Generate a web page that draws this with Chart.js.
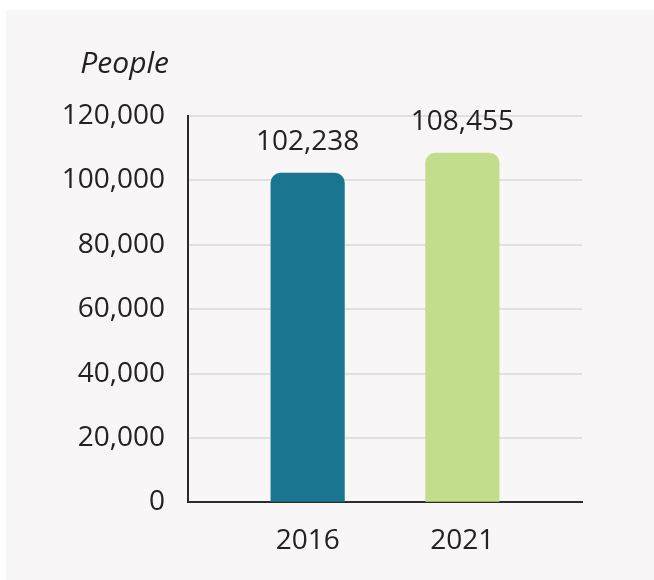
<!DOCTYPE html>
<html>
<head>
<meta charset="utf-8">
<script src="https://cdn.jsdelivr.net/npm/chart.js@4/dist/chart.umd.min.js"></script>
<style>
  html, body { margin: 0; padding: 0; background: #ffffff; }
  #wrap { position: absolute; left: 6px; top: 10px; width: 648px; height: 570px; background: #f8f6f7; }
  canvas { display: block; }
</style>
</head>
<body>
<div id="wrap"><canvas id="c" width="648" height="570"></canvas></div>
<script>
const categories = ['2016', '2021'];
const values = [102238, 108455];
const barColors = ['#1a7591', '#c2dd8c'];
const yTicks = [0, 20000, 40000, 60000, 80000, 100000, 120000];
const yTitle = 'People';

const FONT = '"Open Sans", "Noto Sans", sans-serif';
const fmt = v => Number(v).toLocaleString('en-US');

const labelPlugin = {
  id: 'valueLabels',
  afterDatasetsDraw(chart) {
    const ctx = chart.ctx;
    const meta = chart.getDatasetMeta(0);
    ctx.save();
    ctx.font = '28px ' + FONT;
    ctx.fillStyle = '#222222';
    ctx.textAlign = 'center';
    ctx.textBaseline = 'alphabetic';
    meta.data.forEach((el, i) => {
      ctx.fillText(fmt(values[i]), el.x, el.y - 23);
    });
    ctx.restore();
  }
};

const titlePlugin = {
  id: 'yTitle',
  afterDraw(chart) {
    const ctx = chart.ctx;
    ctx.save();
    ctx.font = 'italic 30px ' + FONT;
    ctx.fillStyle = '#222222';
    ctx.textAlign = 'right';
    ctx.textBaseline = 'alphabetic';
    ctx.fillText(yTitle, chart.chartArea.left - 19, chart.chartArea.top - 43);
    ctx.restore();
  }
};

new Chart(document.getElementById('c'), {
  type: 'bar',
  data: {
    datasets: [{
      data: categories.map((c, i) => ({ x: i + 1, y: values[i] })),
      backgroundColor: barColors,
      borderWidth: 0,
      borderRadius: 10,
      borderSkipped: 'start',
      barThickness: 73.5
    }]
  },
  options: {
    responsive: false,
    animation: false,
    layout: { padding: { top: 106, right: 72, bottom: 0, left: 0 } },
    plugins: { legend: { display: false }, tooltip: { enabled: false } },
    scales: {
      x: {
        type: 'linear',
        offset: false,
        min: 0.2265,
        max: 2.7735,
        afterBuildTicks: s => { s.ticks = categories.map((c, i) => ({ value: i + 1 })); },
        grid: { display: false, drawTicks: false, offset: false },
        border: { display: true, color: '#2b2b2b', width: 2 },
        ticks: {
          color: '#222222',
          font: { family: FONT, size: 28 },
          padding: 22,
          autoSkip: false,
          maxRotation: 0,
          callback: v => categories[v - 1]
        }
      },
      y: {
        min: 0,
        max: 120000,
        afterBuildTicks: s => { s.ticks = yTicks.map(v => ({ value: v })); },
        afterFit: s => { s.width = 182; },
        grid: { color: '#dfe0df', lineWidth: 2, drawTicks: false },
        border: { display: true, color: '#2b2b2b', width: 2 },
        ticks: {
          color: '#222222',
          font: { family: FONT, size: 28 },
          padding: 23,
          callback: v => fmt(v)
        }
      }
    }
  },
  plugins: [labelPlugin, titlePlugin]
});
</script>
</body>
</html>
